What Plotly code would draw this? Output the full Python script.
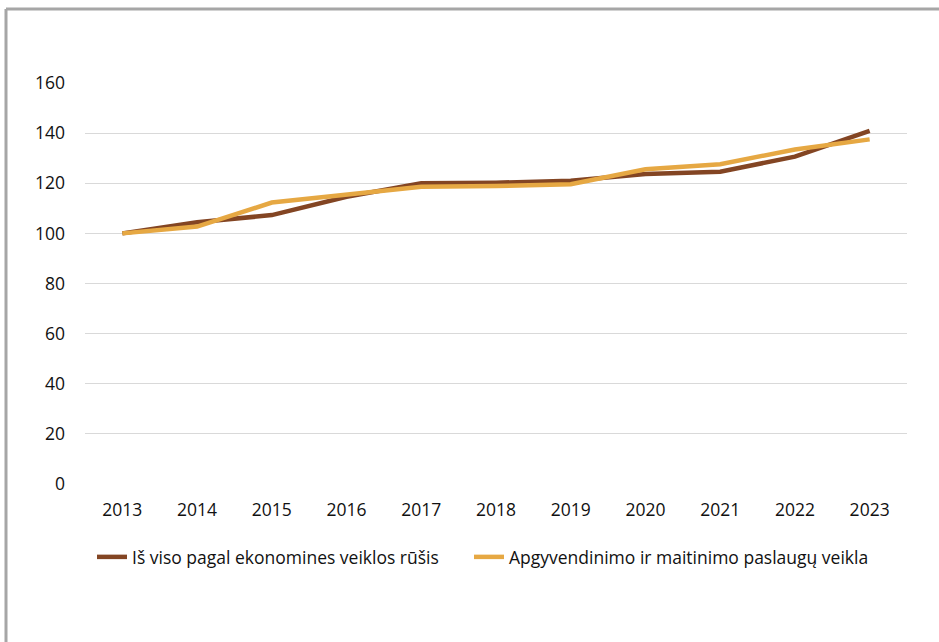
import plotly.graph_objects as go

years = ["2013", "2014", "2015", "2016", "2017", "2018", "2019", "2020", "2021", "2022", "2023"]
total = [100, 104.4, 107.3, 114.6, 120.0, 120.2, 121.0, 123.7, 124.6, 130.6, 140.9]
accom = [100, 102.7, 112.3, 115.3, 118.6, 118.9, 119.6, 125.6, 127.6, 133.5, 137.5]
name_total = "Iš viso pagal ekonomines veiklos rūšis"
name_accom = "Apgyvendinimo ir maitinimo paslaugų veikla"
y_ticks = [0, 20, 40, 60, 80, 100, 120, 140, 160]

W, H = 939, 642
L, R, T, B = 85, 32, 83, 158
pw, ph = W - L - R, H - T - B

def px2x(px):
    return (px - L) / pw

def py2y(py):
    return (H - B - py) / ph

fig = go.Figure()
fig.add_trace(go.Scatter(x=years, y=total, name=name_total, mode="lines",
                         line=dict(color="#834523", width=4.5), legend="legend"))
fig.add_trace(go.Scatter(x=years, y=accom, name=name_accom, mode="lines",
                         line=dict(color="#E6A843", width=4.5), legend="legend2"))

font = "Open Sans, Noto Sans, sans-serif"
fs = 17.5
leg_common = dict(orientation="h", xanchor="left", yanchor="middle",
                  font=dict(size=fs), bgcolor="rgba(0,0,0,0)")
fig.update_layout(
    width=W, height=H,
    margin=dict(l=L, r=R, t=T, b=B),
    paper_bgcolor="white", plot_bgcolor="white",
    font=dict(family=font, size=fs, color="#111111"),
    showlegend=True,
    legend=dict(x=px2x(92), y=py2y(557), **leg_common),
    legend2=dict(x=px2x(469), y=py2y(557), **leg_common),
    xaxis=dict(type="category", showgrid=False, showline=False, zeroline=False,
               ticks="", tickfont=dict(size=fs), ticklabelstandoff=13,
               range=[-0.5, len(years) - 0.5]),
    yaxis=dict(range=[0, 160], tickvals=y_ticks, showgrid=True, gridcolor="#D9D9D9",
               gridwidth=1, zeroline=False, showline=False, ticks="",
               tickfont=dict(size=fs), ticklabelstandoff=19),
    shapes=[
        dict(type="line", xref="paper", yref="paper", x0=px2x(6), x1=px2x(950),
             y0=py2y(9), y1=py2y(9), line=dict(color="#A6A6A6", width=3)),
        dict(type="line", xref="paper", yref="paper", x0=px2x(6), x1=px2x(6),
             y0=py2y(9), y1=py2y(660), line=dict(color="#A6A6A6", width=3)),
    ],
)

fig.write_html("out.html")
